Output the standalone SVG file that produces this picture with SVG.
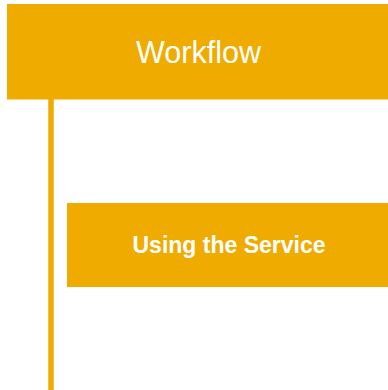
<svg xmlns="http://www.w3.org/2000/svg" width="388" height="390" viewBox="0 0 388 390">
<style>
.box{fill:#F0AB00}
.t{fill:#fff;font-family:"Liberation Sans",Arial,sans-serif;text-anchor:middle}
</style>
<rect width="388" height="390" fill="#fff"/>
<g id="connectors">
<line x1="51" y1="99" x2="51" y2="390" stroke="#F0AB00" stroke-width="5.5"/>
</g>
<g id="workflow">
<rect class="box" x="7" y="4" width="381" height="95.5"/>
<text class="t" x="198.5" y="63" font-size="30.5">Workflow</text>
</g>
<g id="using-service">
<rect class="box" x="67" y="203" width="321" height="84"/>
<text class="t" x="229" y="253" font-size="23" font-weight="bold">Using the Service</text>
</g>
</svg>
